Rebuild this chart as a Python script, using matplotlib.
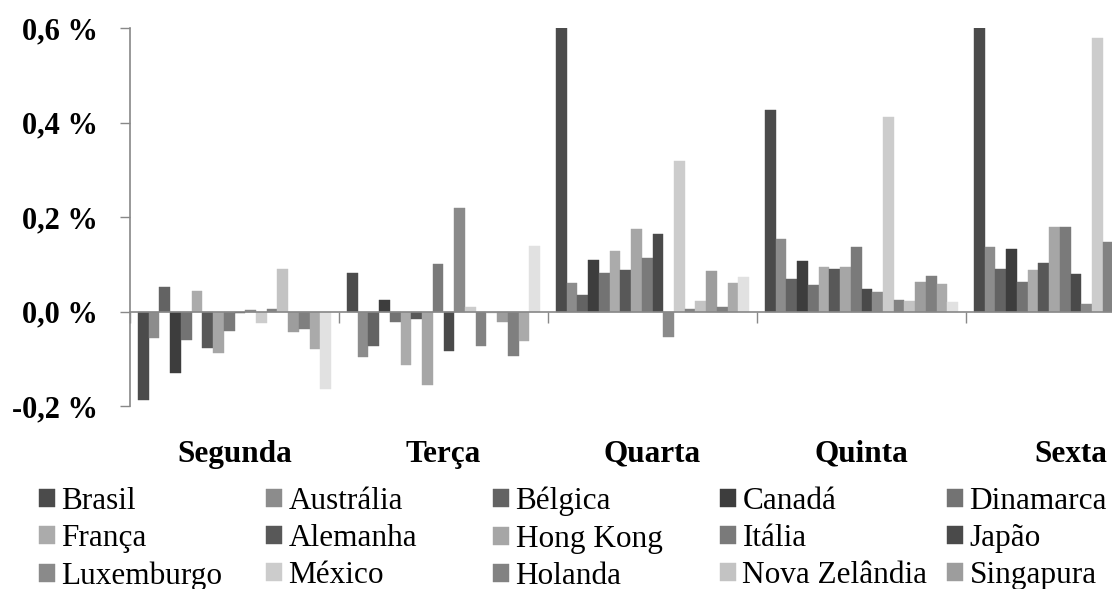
import numpy as np
import matplotlib.pyplot as plt

plt.rcParams['font.family'] = ['Liberation Serif', 'DejaVu Serif']

dias = ['Segunda', 'Terça', 'Quarta', 'Quinta', 'Sexta']

paises = ['Brasil', 'Austrália', 'Bélgica', 'Canadá', 'Dinamarca',
          'França', 'Alemanha', 'Hong Kong', 'Itália', 'Japão',
          'Luxemburgo', 'México', 'Holanda', 'Nova Zelândia', 'Singapura',
          'Suíça', 'Reino Unido', 'EUA']

# retorno médio diário (%) por país: Segunda, Terça, Quarta, Quinta, Sexta
brasil        = [-0.188, 0.082, 0.600, 0.427, 0.600]
australia     = [-0.056, -0.096, 0.061, 0.154, 0.137]
belgica       = [0.052, -0.072, 0.034, 0.069, 0.090]
canada        = [-0.131, 0.025, 0.109, 0.106, 0.132]
dinamarca     = [-0.061, -0.023, 0.082, 0.056, 0.063]
franca        = [0.044, -0.114, 0.128, 0.094, 0.088]
alemanha      = [-0.077, -0.015, 0.087, 0.090, 0.102]
hong_kong     = [-0.087, -0.155, 0.175, 0.094, 0.178]
italia        = [-0.042, 0.101, 0.113, 0.137, 0.178]
japao         = [-0.004, -0.083, 0.164, 0.047, 0.080]
luxemburgo    = [0.004, 0.218, -0.053, 0.042, 0.015]
mexico        = [-0.025, 0.009, 0.318, 0.411, 0.579]
holanda       = [0.006, -0.072, 0.006, 0.025, 0.147]
nova_zelandia = [0.090, -0.003, 0.023, 0.023, np.nan]
singapura     = [-0.044, -0.023, 0.085, 0.063, np.nan]
suica         = [-0.036, -0.094, 0.009, 0.075, np.nan]
reino_unido   = [-0.080, -0.063, 0.061, 0.059, np.nan]
eua           = [-0.164, 0.139, 0.074, 0.020, np.nan]

series = [brasil, australia, belgica, canada, dinamarca, franca, alemanha,
          hong_kong, italia, japao, luxemburgo, mexico, holanda,
          nova_zelandia, singapura, suica, reino_unido, eua]

cores = ['#4b4b4b', '#8c8c8c', '#636363', '#3d3d3d', '#737373',
         '#ababab', '#585858', '#a6a6a6', '#7a7a7a', '#4a4a4a',
         '#8a8a8a', '#cccccc', '#828282', '#c3c3c3', '#9d9d9d',
         '#7f7f7f', '#aaaaaa', '#e1e1e1']

W, H = 1112, 589
fig = plt.figure(figsize=(W / 100, H / 100), dpi=100)
ax = fig.add_axes([130 / W, 183 / H, 1045 / W, 378 / H])

x = np.arange(len(dias))
n = len(series)
w = 0.0514
barras = []
for i, (vals, cor) in enumerate(zip(series, cores)):
    b = ax.bar(x + (i - (n - 1) / 2) * w, vals, w, color=cor,
               edgecolor=cor, linewidth=0.3, label=paises[i])
    barras.append(b)

ax.set_xlim(-0.5, 4.5)
ax.set_ylim(-0.2, 0.6)
ax.set_yticks([-0.2, 0.0, 0.2, 0.4, 0.6])
ax.set_yticklabels([f'{v:.1f} %'.replace('.', ',') for v in [-0.2, 0.0, 0.2, 0.4, 0.6]],
                   fontsize=22, fontweight='bold')
ax.tick_params(axis='y', length=7, width=1, color='#888888', pad=16)

ax.spines['top'].set_visible(False)
ax.spines['right'].set_visible(False)
ax.spines['bottom'].set_position(('data', 0))
for s in ['left', 'bottom']:
    ax.spines[s].set_color('#888888')
    ax.spines[s].set_linewidth(1.2)
ax.set_xticks(np.arange(-0.5, 5, 1))
ax.set_xticklabels([])
ax.tick_params(axis='x', length=8, width=1, color='#888888', direction='out')

for xi, d in zip(x, dias):
    ax.text(xi, -0.148, d, transform=ax.get_xaxis_transform(),
            ha='center', va='baseline', fontsize=22.5, fontweight='bold')

# legenda em 5 colunas de largura fixa, preenchida por linhas (3 linhas visíveis)
ncol = 5
nleg = 15
for c in range(ncol):
    idx = list(range(c, nleg, ncol))
    fig.legend([barras[i] for i in idx], [paises[i] for i in idx],
               loc='upper left', bbox_to_anchor=((39 + 227 * c) / W, 1 - 487 / H),
               frameon=False, fontsize=22.5, borderpad=0, borderaxespad=0,
               handlelength=0.51, handleheight=0.51, handletextpad=0.21,
               labelspacing=0.26)

fig.savefig('out.png', dpi=100)
